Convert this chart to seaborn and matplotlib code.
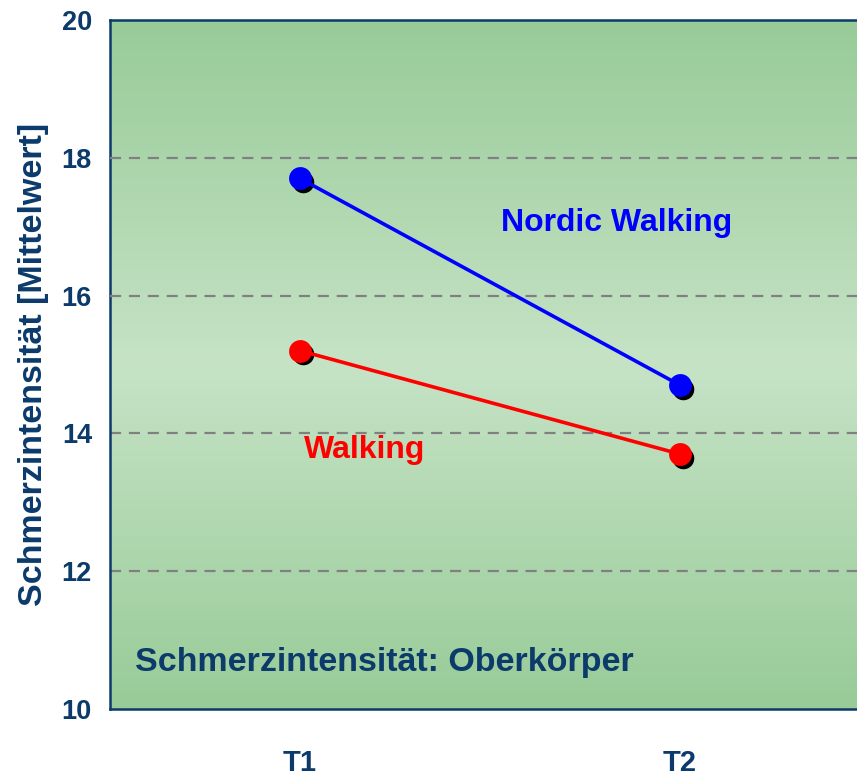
import numpy as np
import pandas as pd
import matplotlib
matplotlib.use("Agg")
import matplotlib.pyplot as plt
import seaborn as sns
import matplotlib.transforms as mtransforms
from matplotlib.colors import LinearSegmentedColormap

# data
zeitpunkte = ["T1", "T2"]
nordic_walking = [17.7, 14.7]
walking = [15.2, 13.7]
y_ticks = [10, 12, 14, 16, 18, 20]

navy = "#0B3A6B"

sns.set_style("white")
plt.rcParams['font.family'] = ['Liberation Sans', 'DejaVu Sans']
plt.rcParams['font.weight'] = 'bold'

df = pd.DataFrame({
    "Zeit": zeitpunkte * 2,
    "Wert": nordic_walking + walking,
    "Gruppe": ["Nordic Walking"] * 2 + ["Walking"] * 2,
})

fig = plt.figure(figsize=(8.57, 7.79), dpi=100)
W, H = 857, 779
ax = fig.add_axes([110 / W, 70 / H, 760 / W, 689 / H])

# green vertical gradient background
grad_cmap = LinearSegmentedColormap.from_list(
    "bg", ["#98CB98", "#C6E3C6", "#98CB98"])
grad = np.linspace(0, 1, 256).reshape(-1, 1)
ax.imshow(grad, cmap=grad_cmap, aspect="auto", extent=[0, 1, 0, 1],
          transform=ax.transAxes, zorder=0)

for yv in y_ticks[1:-1]:
    ax.axhline(yv, color="#808080", lw=1.6, ls=(0, (5, 3.5)), zorder=1)

palette = {"Nordic Walking": "#0000FF", "Walking": "#FF0000"}

# shadow markers
shadow = ax.transData + mtransforms.ScaledTranslation(2.5 / 72, -2.5 / 72, fig.dpi_scale_trans)
for vals in (nordic_walking, walking):
    ax.plot(range(len(zeitpunkte)), vals, "o", color="black", ms=14.5,
            transform=shadow, zorder=2)

sns.pointplot(data=df, x="Zeit", y="Wert", hue="Gruppe", palette=palette,
              markers="o", linestyles="-", ax=ax, legend=False,
              markersize=14.5, linewidth=2.6)
for ln in ax.lines[2:]:
    ln.set_zorder(3)

ax.set_xlim(-0.5, 1.5)
ax.set_ylim(10, 20)
ax.set_yticks(y_ticks)
ax.set_xticks([0.5], minor=False)
ax.set_xticks([0, 1], minor=True)
ax.set_xticklabels([""])
ax.set_xticklabels(zeitpunkte, minor=True)
ax.tick_params(axis="x", which="major", direction="out", length=8, width=1.2,
               color=navy)
ax.tick_params(axis="x", which="minor", length=0, pad=29, labelsize=21,
               labelcolor=navy)
ax.tick_params(axis="y", direction="out", length=7, width=1.2, color=navy,
               labelsize=19.5, labelcolor=navy, pad=6)
for lab in ax.get_xticklabels(minor=True) + ax.get_yticklabels():
    lab.set_fontweight("bold")

for side in ["left", "bottom", "top"]:
    ax.spines[side].set_color(navy)
    ax.spines[side].set_linewidth(1.8)
ax.spines["right"].set_visible(False)

ax.set_xlabel("")
ax.set_ylabel("Schmerzintensität [Mittelwert]", fontsize=24.5, color=navy,
              fontweight="bold", labelpad=9)

ax.text(0.834, 17.05, "Nordic Walking", color="#0000FF", fontsize=23,
        fontweight="bold", ha="center", va="center", zorder=4)
ax.text(0.171, 13.76, "Walking", color="#FF0000", fontsize=23,
        fontweight="bold", ha="center", va="center", zorder=4)
ax.text(-0.434, 10.68, "Schmerzintensität: Oberkörper", color=navy,
        fontsize=24.5, fontweight="bold", ha="left", va="center", zorder=4)

fig.savefig("out.png", dpi=100)
